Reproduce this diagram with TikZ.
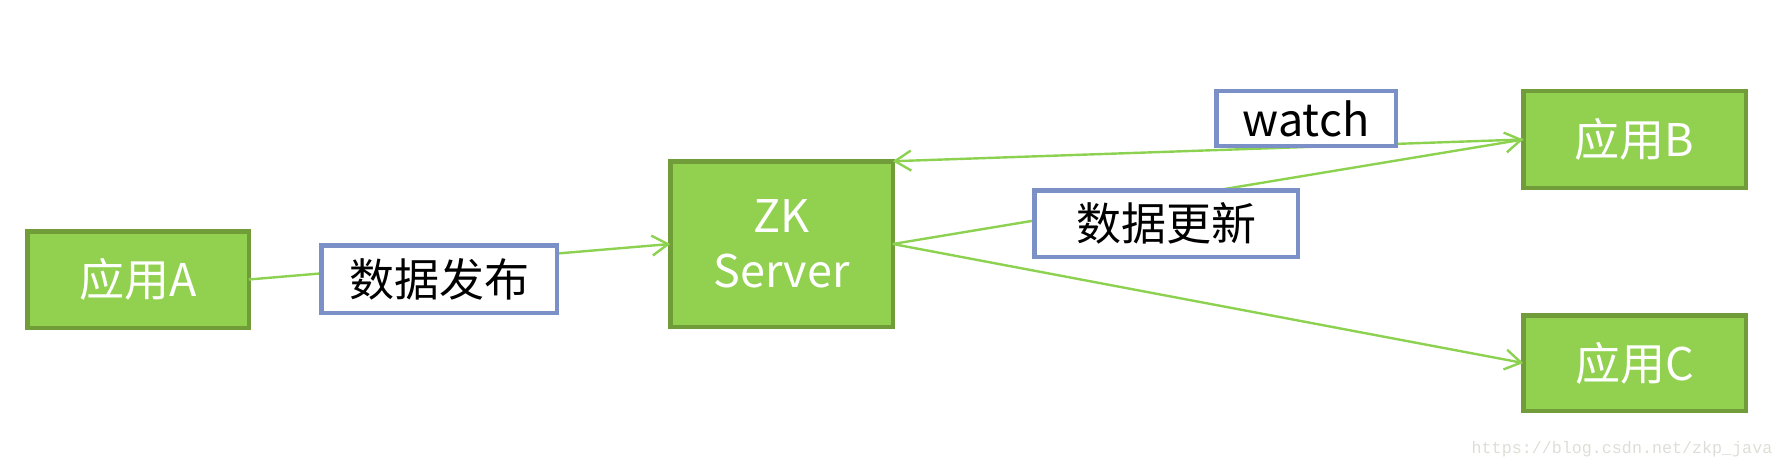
\documentclass[tikz,border=0pt]{standalone}
\usepackage{fontspec}
\newfontfamily\cjk{Noto Sans CJK SC}
\newfontfamily\wmfont{Liberation Mono}
\usetikzlibrary{arrows.meta}
\definecolor{boxfill}{RGB}{146,208,80}
\definecolor{boxedge}{RGB}{112,156,58}
\definecolor{linegreen}{RGB}{140,210,80}
\definecolor{labeledge}{RGB}{124,144,200}
\definecolor{wmgray}{RGB}{222,222,216}
\tikzset{
  appbox/.style={draw=boxedge, fill=boxfill, line width=4.5pt, inner sep=0pt, outer sep=0pt,
    text=white, font=\cjk\fontsize{45}{55}\selectfont, align=center},
  lblbox/.style={draw=labeledge, fill=white, line width=4.5pt, inner sep=0pt, outer sep=0pt,
    text=black, font=\cjk\fontsize{45}{55}\selectfont},
  conn/.style={draw=linegreen, line width=2.4pt,
    -{Straight Barb[length=16pt,width=20pt,line width=2.4pt]}}
}
\begin{document}
\begin{tikzpicture}[x=1pt,y=-1pt]
\useasboundingbox (0,0) rectangle (1784,468);
% application boxes
\node[appbox, minimum width=221.5pt, minimum height=96.5pt] (A) at (138,279.5) {应用A};
\node[appbox, minimum width=222.5pt, minimum height=165.5pt] (ZK) at (781.5,244) {ZK\\Server};
\node[appbox, minimum width=222.5pt, minimum height=96.5pt] (B) at (1634.5,139.5) {应用B};
\node[appbox, minimum width=222.5pt, minimum height=95.5pt] (C) at (1634.5,363) {应用C};
% connectors
\draw[conn] (A.east) -- (ZK.west);
\draw[conn] (B.west) -- (ZK.north east);
\draw[conn] (ZK.east) -- (B.west);
\draw[conn] (ZK.east) -- (C.west);
% labels
\node[lblbox, minimum width=235.5pt, minimum height=67.5pt] (pub) at (439,279) {数据发布};
\node[lblbox, minimum width=263.5pt, minimum height=66.5pt] (upd) at (1166,223.5) {数据更新};
\node[lblbox, minimum width=179.5pt, minimum height=54.5pt] (watch) at (1306,118.5) {watch};
% watermark
\node[text=wmgray, font=\wmfont\fontsize{16.7}{20}\selectfont, inner sep=0pt] (wm) at (1622,449) {https://blog.csdn.net/zkp\_java};
\end{tikzpicture}
\end{document}
